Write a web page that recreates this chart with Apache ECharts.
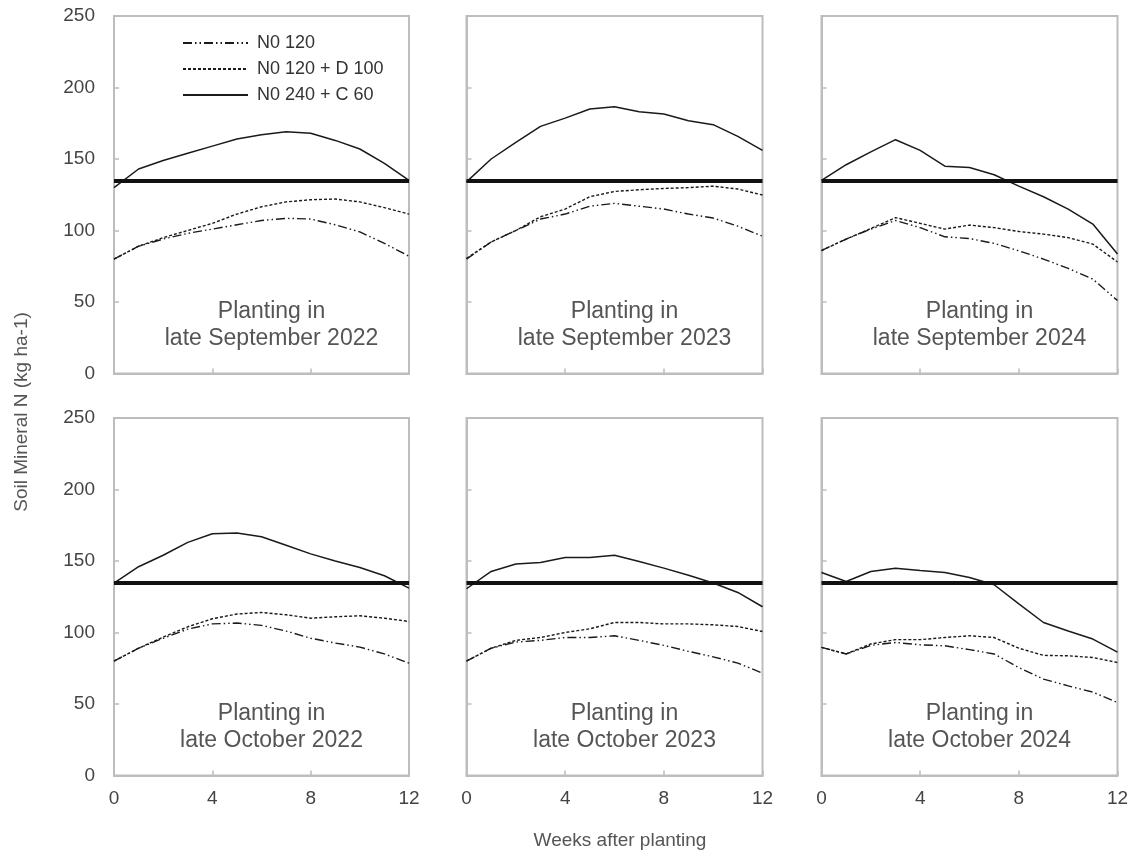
<!DOCTYPE html>
<html><head><meta charset="utf-8">
<script src="https://cdn.jsdelivr.net/npm/echarts@6/dist/echarts.min.js"></script>
<style>html,body{margin:0;padding:0;background:#fff}#c{width:1135px;height:857px}</style>
</head><body><div id="c"></div>
<script>
const weeks = [0,1,2,3,4,5,6,7,8,9,10,11,12];
const seriesNames = ['N0 120','N0 120 + D 100','N0 240 + C 60'];
const panelLabels = [
  'Planting in\nlate September 2022','Planting in\nlate September 2023','Planting in\nlate September 2024',
  'Planting in\nlate October 2022','Planting in\nlate October 2023','Planting in\nlate October 2024'
];
const threshold = 135;
const yTicks = [0,50,100,150,200,250];
const xTicks = [0,4,8,12];

// N0 120 (dash-dot-dot)
const n120 = [
  [80,89,94,98,101,104,107,108.5,108,104,99,91,82],
  [80,92,100,108,111.5,117,119,117,115,111.5,108.7,103,96],
  [86,94,101,107,102,95.6,94.4,91,85.8,80,73.5,66,51],
  [80,89,96,102.4,106,106.6,105,101,96,92.6,89.8,85,78.6],
  [80,89,93.3,94.5,96.5,96.5,97.7,94.5,91,86.8,83,78.6,71.6],
  [89.6,85,91,93,91.4,90.7,88,85,75.5,67.4,62.7,58.3,51]
];
// N0 120 + D 100 (dotted)
const n120d = [
  [80,89,95,100,105,111.5,116.6,120,121.5,122,120,116,111.5],
  [80.5,92,100,109.6,115,123.6,127.3,128.5,129.4,130,131,129,124.8],
  [86,94,101.4,109,105,101,103.8,102,99.3,97.5,95,90.5,78],
  [80,89,96.8,104,109.6,112.9,114,112.4,110,111,111.7,110,107.7],
  [80,89,94.5,96.5,100,102.6,107,107,106,106,105.4,104.2,100.7],
  [89.6,85,92,95,95,96.5,97.7,96.5,89,84,83.7,82.5,79]
];
// N0 240 + C 60 (solid)
const n240c = [
  [130,143,149,154,159,164,167,169,168,163,157,147,135],
  [134,150,161.6,172.8,178.6,185,186.6,183,181.4,176.8,174,165.8,156],
  [135,146,155,163.5,156,145,144,139,131,123.6,115,104.5,83.5],
  [134.6,146,154,163,169,169.5,167,161,155,150,145.5,139.7,131],
  [130.6,142.7,147.9,149,152.5,152.5,154,149.7,145,140,134.6,128,118],
  [142,135.7,142.7,145,143.4,142,138.5,133.4,120,107,101,95.4,86.3]
];

const FONT = '"Liberation Sans", Arial, sans-serif';
const lefts = [114, 466.5, 821.5];
const widths = [295, 296, 296];
const tops = [16, 418];
const H = 357.5;

const grids = [], xAxes = [], yAxes = [], series = [], titles = [];
const styles = [
  {type:[9,3,1.5,3,1.5,3], width:1.4},
  {type:[3,2], width:1.4},
  {type:'solid', width:1.5}
];
const datasets = [n120, n120d, n240c];

for (let p = 0; p < 6; p++) {
  const r = Math.floor(p/3), c = p % 3;
  grids.push({left: lefts[c], top: tops[r], width: widths[c], height: H,
    show: true, borderColor: '#bdbdbd', borderWidth: 2, backgroundColor: 'transparent'});
  xAxes.push({type:'value', gridIndex:p, min:xTicks[0], max:xTicks[xTicks.length-1], interval:4,
    axisLine:{show:true, onZero:false, lineStyle:{color:'#bdbdbd', width:2}},
    axisTick:{show:true, inside:true, length:5, lineStyle:{color:'#bdbdbd', width:1.5}},
    axisLabel:{show: r===1, color:'#444', fontSize:19, fontFamily:FONT, margin:14},
    splitLine:{show:false}});
  yAxes.push({type:'value', gridIndex:p, min:yTicks[0], max:yTicks[yTicks.length-1], interval:50,
    axisLine:{show:true, lineStyle:{color:'#bdbdbd', width:2}},
    axisTick:{show:true, inside:true, length:5, lineStyle:{color:'#bdbdbd', width:1.5}},
    axisLabel:{show: c===0, color:'#444', fontSize:19, fontFamily:FONT, margin:19},
    splitLine:{show:false}});
  for (let s = 0; s < 3; s++) {
    const ser = {
      name: seriesNames[s], type:'line', xAxisIndex:p, yAxisIndex:p,
      data: weeks.map((w,i)=>[w, datasets[s][p][i]]),
      symbol:'none', smooth:false, silent:true, animation:false,
      lineStyle:{color:'#1a1a1a', width:styles[s].width, type:styles[s].type},
      itemStyle:{color:'#1a1a1a', opacity:0}
    };
    if (s === 2) {
      ser.markLine = {silent:true, symbol:['none','none'], label:{show:false}, animation:false,
        lineStyle:{color:'#111', width:4, type:'solid', opacity:1},
        data:[{yAxis: threshold}]};
    }
    series.push(ser);
  }
  titles.push({text: panelLabels[p], left: lefts[c] + widths[c]/2 + 10, top: tops[r] + 282,
    textAlign:'center', padding:0,
    textStyle:{color:'#555', fontSize:23, fontWeight:'normal', fontFamily:FONT, lineHeight:27, align:'center'}});
}

const chart = echarts.init(document.getElementById('c'), null, {renderer:'canvas'});
chart.setOption({
  backgroundColor:'#fff',
  animation:false,
  title: titles,
  grid: grids, xAxis: xAxes, yAxis: yAxes, series: series,
  legend: {
    data: seriesNames, orient:'vertical', left:182, top:34, padding:0,
    itemWidth:65, itemHeight:14, itemGap:8,
    selectedMode:false,
    itemStyle:{opacity:0},
    textStyle:{color:'#333', fontSize:18, fontFamily:FONT, padding:[0,0,0,4]}
  },
  graphic: [
    {type:'text', x:22, y:412, rotation:Math.PI/2,
      style:{text:'Soil Mineral N (kg ha-1)', fill:'#555', font:'19px ' + FONT, align:'center', verticalAlign:'middle'}},
    {type:'text', x:620, y:841,
      style:{text:'Weeks after planting', fill:'#555', font:'19px ' + FONT, align:'center', verticalAlign:'middle'}}
  ]
});
</script></body></html>
